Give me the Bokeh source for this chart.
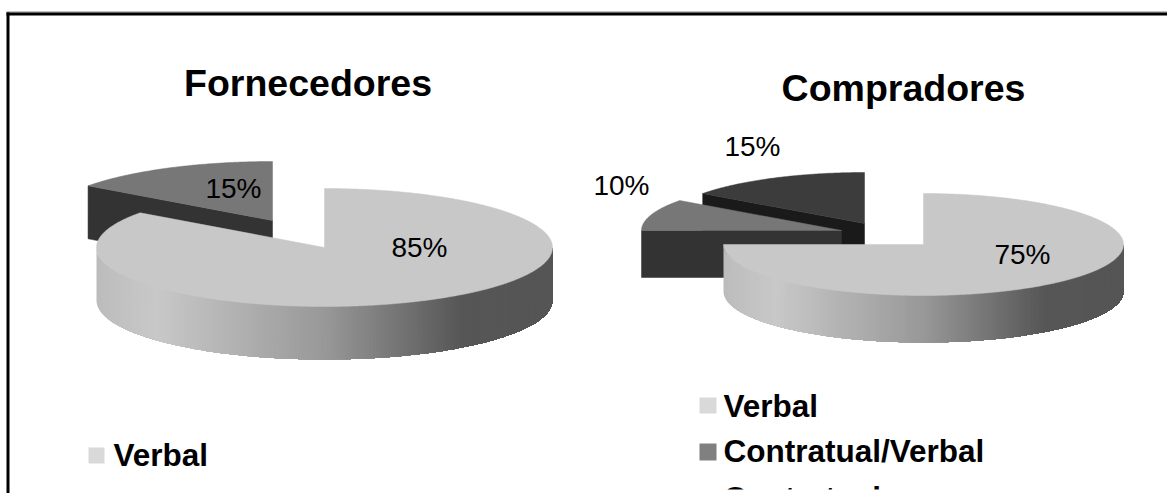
import numpy as np
from bokeh.embed import file_html
from bokeh.models import Range1d
from bokeh.plotting import figure
from bokeh.resources import INLINE
from bokeh.core.properties import value

# Survey results: share of each contract type, in percent
fornecedores_labels = ["Verbal", "Contratual/Verbal"]
fornecedores_values = [85, 15]
compradores_labels = ["Verbal", "Contratual/Verbal", "Contratual"]
compradores_values = [75, 10, 15]

FONT = value("Liberation Sans")
W, H = 1167, 493

p = figure(width=W, height=H, x_range=Range1d(0, W), y_range=Range1d(H, 0),
           output_backend="svg", toolbar_location=None, min_border=0,
           outline_line_color=None, background_fill_color="white",
           border_fill_color="white")
p.axis.visible = False
p.grid.visible = False


def arc(cx, cy, rx, ry, t0, t1):
    """Ellipse points; angles are degrees clockwise from 12 o'clock."""
    t = np.radians(np.linspace(t0, t1, max(int(abs(t1 - t0)) * 2, 2)))
    return cx + rx * np.sin(t), cy - ry * np.cos(t)


def top_face(cx, cy, rx, ry, t0, t1, color):
    x, y = arc(cx, cy, rx, ry, t0, t1)
    xs = np.concatenate([[cx], x])
    ys = np.concatenate([[cy], y])
    p.patch(xs, ys, fill_color=color, line_color=color, line_width=0.5)


def radial_wall(cx, cy, rx, ry, depth, t, color):
    """Cut side of an exploded slice, running from its apex out to the rim."""
    x, y = arc(cx, cy, rx, ry, t, t)
    xs = [cx, x[0], x[0], cx]
    ys = [cy, y[0], y[0] + depth, cy + depth]
    p.patch(xs, ys, fill_color=color, line_color=color, line_width=0.5)


# Brightness of the rim, from the left extreme to the right extreme of the disc
RIM_FRACTIONS = [0.0, 0.13, 0.5, 0.8, 1.0]
RIM_GREYS = [188, 200, 152, 86, 85]


def rim_wall(cx, cy, rx, ry, depth):
    """Front rim as shaded bands, each painted over the one before it."""
    x, y = arc(cx, cy, rx, ry, 270, 90)
    keep = [0]
    for i in range(1, len(x)):
        if x[i] - x[keep[-1]] >= 3:
            keep.append(i)
    xs, ys, colors = [], [], []
    for i in keep:
        xs.append(np.concatenate([x[i:], x[i:][::-1]]))
        ys.append(np.concatenate([y[i:], (y[i:] + depth)[::-1]]))
        frac = (x[i] + 1.5 - (cx - rx)) / (2 * rx)
        g = int(round(np.interp(frac, RIM_FRACTIONS, RIM_GREYS)))
        colors.append(f"#{g:02x}{g:02x}{g:02x}")
    p.patches(xs, ys, fill_color=colors, line_color=None)


def sweep(values):
    edges = np.concatenate([[0], np.cumsum(values)]) * 3.6
    return list(zip(edges[:-1], edges[1:]))


# Left pie: the small slice is pulled away from the disc
F_SWEEP = sweep(fornecedores_values)
cx, cy, rx, ry, depth = 324, 247, 228, 59, 53
t0, t1 = F_SWEEP[1]
radial_wall(272, 220, rx, ry, depth, t0, "#333333")
top_face(272, 220, rx, ry, t0, t1, "#777777")
rim_wall(cx, cy, rx, ry, depth)
top_face(cx, cy, rx, ry, *F_SWEEP[0], "#c8c8c8")

# Right pie: two pulled slices, the farther one drawn first
C_SWEEP = sweep(compradores_values)
cx, cy, rx, ry, depth = 923, 244, 200, 51, 47
t0, t1 = C_SWEEP[2]
radial_wall(864, 223, rx, ry, depth, t0, "#1a1a1a")
top_face(864, 223, rx, ry, t0, t1, "#3c3c3c")
t0, t1 = C_SWEEP[1]
radial_wall(841, 230, rx, ry, depth, t0, "#333333")
top_face(841, 230, rx, ry, t0, t1, "#777777")
rim_wall(cx, cy, rx, ry, depth)
top_face(cx, cy, rx, ry, *C_SWEEP[0], "#c8c8c8")

# Percent labels
pct_texts = [f"{v}%" for v in fornecedores_values + compradores_values]
p.text([419, 233, 1022, 621, 752], [247, 188, 254, 185, 146], text=pct_texts,
       text_font=FONT, text_font_size="28px", text_color="#000000",
       text_align="center", text_baseline="middle")

# Chart titles
p.text([307.5, 903], [82, 87], text=["Fornecedores", "Compradores"],
       text_font=FONT, text_font_size="37.5px", text_font_style="bold",
       text_color="#000000", text_align="center", text_baseline="middle")

# Legends; the last row of the right one is cut short by the white strip below it
p.quad(left=[88, 699, 699], right=[104, 716, 716],
       top=[447, 397, 443], bottom=[463, 413, 460],
       fill_color=["#d9d9d9", "#d9d9d9", "#808080"], line_color=None)
p.text([113, 723, 723, 723], [454, 405, 450, 497],
       text=[fornecedores_labels[0]] + compradores_labels,
       text_font=FONT, text_font_size="31.5px", text_font_style="bold",
       text_color="#000000", text_align="left", text_baseline="middle")
p.quad(left=[690], right=[1000], top=[489], bottom=[H],
       fill_color="white", line_color=None)

# Frame along the top and left, with its soft outer edge
p.quad(left=[6], right=[W], top=[11], bottom=[12], fill_color="#888888", line_color=None)
p.quad(left=[6, 6], right=[W, 9], top=[12, 12], bottom=[15, H],
       fill_color="#000000", line_color=None)

open("out.html", "w").write(file_html(p, INLINE))
